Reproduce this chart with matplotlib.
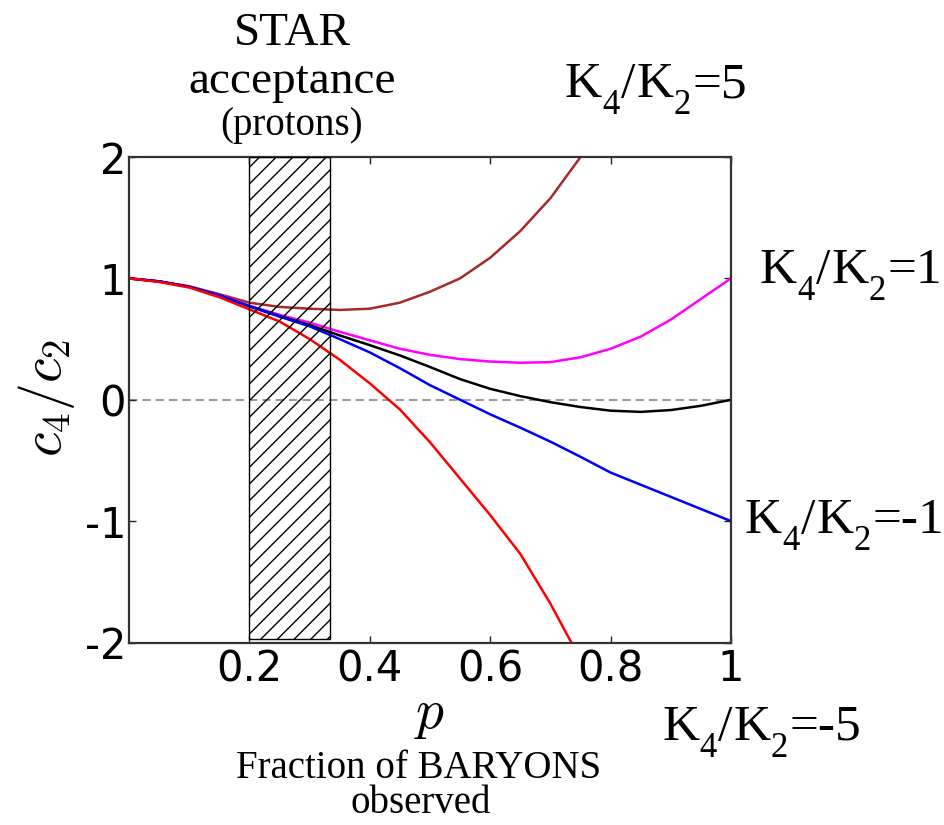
import matplotlib
matplotlib.use("Agg")
import matplotlib.pyplot as plt
from matplotlib.patches import Rectangle

# values
p = [0.0, 0.05, 0.1, 0.15, 0.2, 0.25, 0.3, 0.35, 0.4, 0.45, 0.5,
     0.55, 0.6, 0.65, 0.7, 0.75, 0.8, 0.85, 0.9, 0.95, 1.0]

r_k5 = [1.00, 0.975, 0.935, 0.87, 0.80, 0.765, 0.75, 0.74, 0.75, 0.80, 0.89,
        1.00, 1.17, 1.39, 1.66, 2.00, 2.40]
r_k1 = [1.00, 0.975, 0.93, 0.865, 0.775, 0.70, 0.635, 0.56, 0.49, 0.42, 0.37,
        0.335, 0.315, 0.305, 0.31, 0.35, 0.42, 0.52, 0.66, 0.83, 1.00]
r_k0 = [1.00, 0.975, 0.93, 0.86, 0.77, 0.69, 0.615, 0.53, 0.45, 0.365, 0.27,
        0.17, 0.09, 0.03, -0.02, -0.06, -0.09, -0.10, -0.085, -0.05, 0.00]
r_km1 = [1.00, 0.975, 0.93, 0.86, 0.77, 0.685, 0.605, 0.50, 0.39, 0.26, 0.12,
         0.00, -0.12, -0.23, -0.345, -0.47, -0.60, -0.70, -0.80, -0.90, -1.00]
r_km5 = [1.00, 0.97, 0.925, 0.845, 0.745, 0.645, 0.50, 0.33, 0.135, -0.08, -0.35,
         -0.65, -0.95, -1.27, -1.68, -2.14]

acc_lo, acc_hi = 0.2, 0.334   # STAR acceptance band
acc_bottom = -1.97

xticks = [0.2, 0.4, 0.6, 0.8, 1.0]
xticklabels = ["0.2", "0.4", "0.6", "0.8", "1"]
yticks = [-2, -1, 0, 1, 2]
yticklabels = ["-2", "-1", "0", "1", "2"]

W, H = 945, 825
fig = plt.figure(figsize=(W / 100, H / 100), dpi=100)
ax = fig.add_axes([129 / W, 1 - 642.5 / H, 602 / W, 485.5 / H])

def fx(x):
    return x / W

def fy(y):
    return 1 - y / H

lw = 1.8
ax.plot(p[:len(r_k5)], r_k5, color="#a52a2a", lw=lw)
ax.plot(p, r_k1, color="#ff00ff", lw=lw)
ax.plot(p, r_k0, color="black", lw=lw)
ax.plot(p, r_km1, color="#0000ff", lw=lw)
ax.plot(p[:len(r_km5)], r_km5, color="#ff0000", lw=lw)
ax.axhline(0, color="#888888", lw=1.2, ls=(0, (5, 3)), zorder=1)

plt.rcParams["hatch.linewidth"] = 1.0
ax.add_patch(Rectangle((acc_lo, acc_bottom), acc_hi - acc_lo, 2 - acc_bottom,
                       fill=False, hatch="//", edgecolor="black", lw=1.0,
                       zorder=3))

ax.set_xlim(0, 1)
ax.set_ylim(-2, 2)
ax.set_xticks(xticks)
ax.set_xticklabels(xticklabels)
ax.set_yticks(yticks)
ax.set_yticklabels(yticklabels)
ax.tick_params(direction="in", top=True, right=True, length=5, width=1,
               labelsize=30, colors="#222222", labelcolor="black")
ax.tick_params(axis="x", pad=4)
ax.tick_params(axis="y", pad=2)
for s in ax.spines.values():
    s.set_linewidth(1.6)
    s.set_color("#333333")

fig.text(fx(47), fy(398), r"$c_4/c_2$", fontsize=40, rotation=90,
         ha="center", va="center", math_fontfamily="cm")
fig.text(fx(430), fy(687), r"$p$", fontsize=40, ha="center", va="top",
         math_fontfamily="cm")

serif = "Liberation Serif"
fig.text(fx(292), fy(45), "STAR", fontsize=34, family=serif, ha="center", va="baseline")
fig.text(fx(292), fy(93), "acceptance", fontsize=34, family=serif, ha="center", va="baseline")
fig.text(fx(292), fy(135), "(protons)", fontsize=28, family=serif, ha="center", va="baseline")

fig.text(fx(419), fy(778), "Fraction of BARYONS", fontsize=28, family=serif,
         ha="center", va="baseline")
fig.text(fx(421), fy(813), "observed", fontsize=28, family=serif,
         ha="center", va="baseline")

# K4/K2 labels, built piece by piece so the subscripts drop like the original
renderer = fig.canvas.get_renderer()

def ktext(x, y, val):
    pieces = [("K", 37, 0, 0), ("4", 25, 17, 2), ("/", 37, 0, 1),
              ("K", 37, 0, 0), ("2", 25, 17, 2), ("=" + val, 37, 0, 0)]
    cur = x
    for s, size, dy, kern in pieces:
        t = fig.text(fx(cur), fy(y + dy), s, fontsize=size, family=serif,
                     ha="left", va="baseline")
        cur += t.get_window_extent(renderer).width + kern

ktext(565, 97, "5")
ktext(760, 283, "1")
ktext(745, 533, "-1")
ktext(662, 740, "-5")

fig.savefig("out.png", dpi=100)
